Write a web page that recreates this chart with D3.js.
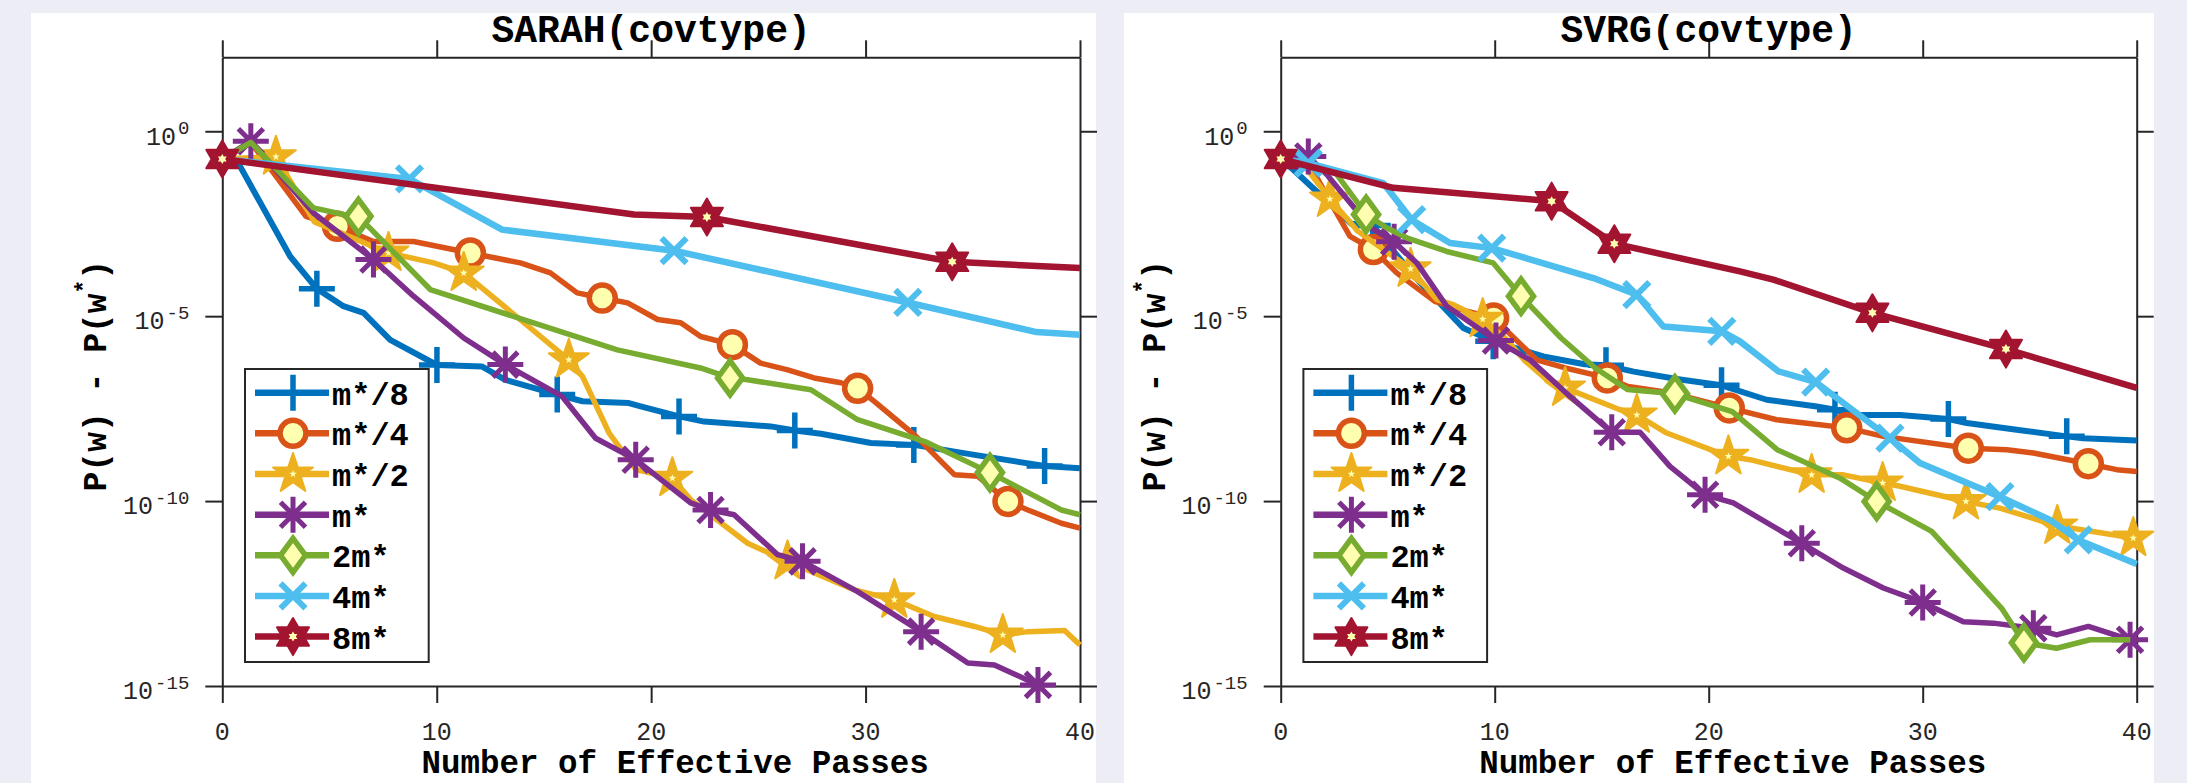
<!DOCTYPE html>
<html><head><meta charset="utf-8">
<script src="https://cdn.jsdelivr.net/npm/d3@7"></script>
<style>body{margin:0;background:#EDEDF5;} svg{display:block;}</style>
</head><body>
<svg id="chart" width="2187" height="783"></svg>
<script>
// ---------- shared categories / ticks ----------
const seriesLabels = ["m*/8","m*/4","m*/2","m*","2m*","4m*","8m*"];
const seriesColors = ["#0072BD","#D95319","#EDB120","#7E2F8E","#77AC30","#4DBEEE","#A2142F"];
const seriesMarkers = ["plus","circle","pentagram","asterisk","diamond","cross","hexagram"];
const panelTitles = ["SARAH(covtype)","SVRG(covtype)"];
const xTicks = [0,10,20,30,40];
const xTickLabels = ["0","10","20","30","40"];
const yTicks = [1e0,1e-5,1e-10,1e-15];
const yTickExp = ["0","-5","-10","-15"];

// ---------- SARAH (values: x = effective passes, y = log10(P(w)-P(w*))) ----------
const sarah_m8_x = [0,0.83,3.16,4.41,5.65,6.59,7.83,10.01,12.1,13.2,15.62,16.8,18.96,19.6,21.3,22.47,25.58,26.7,27.92,30.25,32.25,35.08,38.35,40];
const sarah_m8_y = [-0.75,-0.95,-3.38,-4.26,-4.73,-4.91,-5.64,-6.32,-6.36,-6.72,-7.12,-7.30,-7.35,-7.45,-7.71,-7.85,-7.98,-8.09,-8.18,-8.43,-8.48,-8.75,-9.05,-9.11];
const sarah_m8_mk = [4.41,10.01,15.62,21.3,26.7,32.25,38.35];

const sarah_m4_x = [0,1.33,3.9,5.37,7.05,8.92,11.57,13.9,15.3,16.55,17.72,18.9,20.3,21.38,22.31,23.79,25.1,26.37,27.6,28.85,29.63,30.42,32.28,34.15,35.24,36.64,37.57,39.13,40];
const sarah_m4_y = [-0.75,-0.3,-2.3,-2.57,-2.98,-2.98,-3.29,-3.56,-3.83,-4.37,-4.51,-4.64,-5.09,-5.18,-5.55,-5.77,-6.27,-6.45,-6.67,-6.8,-6.95,-7.31,-8.21,-9.29,-9.33,-10.01,-10.24,-10.6,-10.73];
const sarah_m4_mk = [5.37,11.57,17.72,23.79,29.63,36.64];

const sarah_m2_x = [0,2.5,4.3,7.75,9.86,11.26,16.16,16.8,18.04,19.3,20.99,21.84,24.5,26.36,29.48,31.34,33.2,35.08,36.4,37.57,39.28,40];
const sarah_m2_y = [-0.75,-0.69,-2.45,-3.29,-3.56,-3.83,-6.18,-6.63,-8.16,-9.15,-9.38,-9.96,-11.14,-11.63,-12.4,-12.67,-13.12,-13.39,-13.62,-13.53,-13.5,-13.89];
const sarah_m2_mk = [2.5,7.75,11.26,16.16,20.99,26.36,31.34,36.4];

const sarah_m1_x = [0,1.33,4.25,7.05,8.92,11.26,13.2,15.85,17.41,19.28,21.84,22.77,23.87,25.9,27.06,29.63,32.59,34.77,36.01,38.04];
const sarah_m1_y = [-0.75,-0.27,-2.21,-3.47,-4.46,-5.59,-6.31,-7.17,-8.3,-8.88,-10.05,-10.24,-10.37,-11.45,-11.63,-12.45,-13.53,-14.38,-14.43,-14.97];
const sarah_m1_mk = [1.33,7.05,13.2,19.28,22.77,27.06,32.59,38.04];

const sarah_2m_x = [0,1.33,4.25,5.65,6.35,9.7,18.42,22.3,23.68,24.5,27.45,29.63,32.77,35.8,39.13,40];
const sarah_2m_y = [-0.75,-0.3,-2.07,-2.25,-2.3,-4.28,-5.91,-6.4,-6.67,-6.72,-6.99,-7.8,-8.39,-9.23,-10.24,-10.37];
const sarah_2m_mk = [6.35,23.68,35.8];

const sarah_4m_x = [0,8.73,13.05,21.07,31.97,37.97,40];
const sarah_4m_y = [-0.75,-1.29,-2.66,-3.23,-4.63,-5.43,-5.5];
const sarah_4m_mk = [8.73,21.07,31.97];

const sarah_8m_x = [0,19.2,22.6,34.04,34.8,40];
const sarah_8m_y = [-0.75,-2.25,-2.32,-3.53,-3.55,-3.7];
const sarah_8m_mk = [0,22.6,34.04];

// ---------- SVRG ----------
const svrg_m8_x = [0,0.59,3.3,4.3,6.2,8.53,9.93,12.27,14.2,15.2,16.5,18.5,20.6,22.71,25.05,25.9,26.76,28.94,31.2,32.06,34.39,36.73,37.5,40];
const svrg_m8_y = [-0.75,-1.04,-2.5,-2.55,-3.9,-5.32,-5.68,-6.09,-6.3,-6.33,-6.5,-6.7,-6.87,-7.26,-7.44,-7.53,-7.67,-7.67,-7.78,-7.89,-8.07,-8.25,-8.3,-8.36];
const svrg_m8_mk = [4.3,9.93,15.2,20.6,25.9,31.2,36.73];

const svrg_m4_x = [0,1.1,2.4,3.24,4.33,5.42,7.2,8.6,9.95,11.96,13.3,15.26,16.24,18.2,20.96,23.18,26.45,28.16,32.13,33.93,35.17,37.74,39.07,40];
const svrg_m4_y = [-0.75,-0.62,-2.0,-2.84,-3.2,-3.83,-4.6,-4.85,-5.05,-6.18,-6.4,-6.67,-6.9,-7.07,-7.48,-7.8,-8.02,-8.25,-8.57,-8.61,-8.7,-8.99,-9.15,-9.2];
const svrg_m4_mk = [4.33,9.95,15.26,20.96,26.45,32.13,37.74];

const svrg_m2_x = [0,1.2,2.3,3.6,6.07,7.29,8.07,9.44,10.5,11.4,12.4,13.29,15.85,16.64,18.04,20.92,21.93,24.81,26.29,28.13,28.94,32.02,33.61,36.29,37.5,39.84];
const svrg_m2_y = [-0.75,-1.0,-1.83,-2.7,-3.72,-4.55,-4.69,-5.08,-5.6,-6.2,-6.7,-6.94,-7.53,-7.67,-8.16,-8.79,-8.88,-9.29,-9.29,-9.51,-9.6,-10.01,-10.19,-10.67,-10.78,-11.0];
const svrg_m2_mk = [2.3,6.07,9.44,13.29,16.64,20.92,24.81,28.13,32.02,36.29,39.84];

const svrg_m1_x = [0,1.29,2.2,4.2,5.3,6.36,7.76,10.06,11.65,13.52,15.47,16.79,18.19,19.83,21.15,24.35,26.29,28.16,30.0,31.9,33.3,35.17,36.26,37.74,39.69];
const svrg_m1_y = [-0.75,-0.68,-1.2,-2.6,-2.99,-3.56,-4.73,-5.66,-6.18,-7.17,-8.14,-8.14,-9.06,-9.83,-10.05,-11.14,-11.81,-12.35,-12.74,-13.26,-13.3,-13.44,-13.62,-13.39,-13.75];
const svrg_m1_mk = [1.29,5.3,10.06,15.47,19.83,24.35,30.0,35.17,39.69];

const svrg_2m_x = [0,1.3,2.6,3.99,4.95,5.89,7.76,9.93,11.23,13.1,14.7,16.2,18.42,19.59,21.1,23.2,26.14,27.85,30.42,33.69,34.73,36.26,37.82,39.7];
const svrg_2m_y = [-0.75,-0.85,-1.15,-2.25,-2.61,-2.88,-3.25,-3.56,-4.46,-5.59,-6.4,-6.98,-7.1,-7.31,-7.58,-8.61,-9.38,-10.01,-10.82,-12.9,-13.83,-13.98,-13.75,-13.75];
const svrg_2m_mk = [3.99,11.23,18.42,27.85,34.73];

const svrg_4m_x = [0,1.29,4.79,6.12,7.91,9.86,14.61,16.64,17.88,20.61,21.46,23.25,25.0,28.47,29.87,33.61,35.95,37.27,40];
const svrg_4m_y = [-0.75,-0.86,-1.4,-2.39,-3.02,-3.16,-3.97,-4.42,-5.28,-5.41,-5.68,-6.49,-6.78,-8.3,-8.97,-9.88,-10.51,-11.05,-11.7];
const svrg_4m_mk = [1.29,6.12,9.86,16.64,20.61,25.0,28.47,33.61,37.27];

const svrg_8m_x = [0,5.26,12.66,15.59,21.46,23.02,27.65,33.89,40];
const svrg_8m_y = [-0.75,-1.53,-1.89,-3.04,-3.79,-4.01,-4.91,-5.89,-6.94];
const svrg_8m_mk = [0,12.66,15.59,27.65,33.89];

// ---------- assemble ----------
const sarahSeries = [
  [sarah_m8_x,sarah_m8_y,sarah_m8_mk],[sarah_m4_x,sarah_m4_y,sarah_m4_mk],[sarah_m2_x,sarah_m2_y,sarah_m2_mk],
  [sarah_m1_x,sarah_m1_y,sarah_m1_mk],[sarah_2m_x,sarah_2m_y,sarah_2m_mk],[sarah_4m_x,sarah_4m_y,sarah_4m_mk],
  [sarah_8m_x,sarah_8m_y,sarah_8m_mk]];
const svrgSeries = [
  [svrg_m8_x,svrg_m8_y,svrg_m8_mk],[svrg_m4_x,svrg_m4_y,svrg_m4_mk],[svrg_m2_x,svrg_m2_y,svrg_m2_mk],
  [svrg_m1_x,svrg_m1_y,svrg_m1_mk],[svrg_2m_x,svrg_2m_y,svrg_2m_mk],[svrg_4m_x,svrg_4m_y,svrg_4m_mk],
  [svrg_8m_x,svrg_8m_y,svrg_8m_mk]];

const FONT = "'Liberation Mono','Courier New',monospace";
const AXC = "#262626";
const PALE = "#FFFFB0";
const lineW = [6,5.5,5.5,5.5,5.5,6.5,6.5];

const layouts = [
  {bg:[31,13,1065,770], ax:[222.3,1080], data:sarahSeries, title:panelTitles[0]},
  {bg:[1124,13,1030,770], ax:[1280.7,2136.7], data:svrgSeries, title:panelTitles[1]}
];
const yTop = 57.3, yBot = 686;

const svg = d3.select("#chart");
svg.append("rect").attr("width",2187).attr("height",783).attr("fill","#EDEDF5");

function starPath(n, R, r){
  let p = [];
  for(let k=0;k<2*n;k++){
    const a = -Math.PI/2 + k*Math.PI/n;
    const rad = (k%2===0)?R:r;
    p.push([rad*Math.cos(a), rad*Math.sin(a)]);
  }
  return "M"+p.map(q=>q[0].toFixed(2)+","+q[1].toFixed(2)).join("L")+"Z";
}

function drawMarker(g, type, color, cx, cy){
  const m = g.append("g").attr("transform",`translate(${cx},${cy})`);
  if(type==="plus"){
    m.append("path").attr("d","M-18,0H18M0,-18V18").attr("stroke",color).attr("stroke-width",5.5).attr("fill","none");
  } else if(type==="asterisk"){
    m.append("path").attr("d","M-18,0H18M0,-18V18M-12.5,-12.5L12.5,12.5M-12.5,12.5L12.5,-12.5")
      .attr("stroke",color).attr("stroke-width",5).attr("fill","none");
  } else if(type==="cross"){
    m.append("path").attr("d","M-12.5,-12.5L12.5,12.5M-12.5,12.5L12.5,-12.5").attr("stroke",color).attr("stroke-width",6).attr("fill","none");
  } else if(type==="circle"){
    m.append("circle").attr("r",13).attr("fill",PALE).attr("stroke",color).attr("stroke-width",5.5);
  } else if(type==="diamond"){
    m.append("path").attr("d","M0,-17L12.5,0L0,17L-12.5,0Z").attr("fill",PALE).attr("stroke",color).attr("stroke-width",5.5).attr("stroke-linejoin","miter");
  } else if(type==="pentagram"){
    m.append("path").attr("d",starPath(5,21,8.2)).attr("fill",color).attr("stroke",color).attr("stroke-width",2).attr("stroke-linejoin","round");
    m.append("path").attr("d",starPath(5,4,1.6)).attr("fill",PALE);
  } else if(type==="hexagram"){
    m.append("path").attr("d",starPath(6,18.5,10.7)).attr("fill",color).attr("stroke",color).attr("stroke-width",2).attr("stroke-linejoin","round");
    m.append("path").attr("d",starPath(6,5,2.9)).attr("fill",PALE);
  }
}

layouts.forEach(L=>{
  const [bx,by,bw,bh] = L.bg;
  svg.append("rect").attr("x",bx).attr("y",by).attr("width",bw).attr("height",bh).attr("fill","#FFFFFF");
  const x = d3.scaleLinear().domain([0,40]).range(L.ax);
  const y = d3.scaleLog().domain([1e-15,1e2]).range([yBot,yTop]);
  const g = svg.append("g");

  // axes (ticks outward on all four sides)
  const styleAxis = sel => {
    sel.select(".domain").attr("stroke",AXC).attr("stroke-width",2);
    sel.selectAll(".tick line").attr("stroke",AXC).attr("stroke-width",2);
  };
  g.append("g").attr("transform",`translate(0,${yBot})`)
    .call(d3.axisBottom(x).tickValues(xTicks).tickSize(17).tickSizeOuter(0).tickFormat("")).call(styleAxis);
  g.append("g").attr("transform",`translate(0,${yTop})`)
    .call(d3.axisTop(x).tickValues(xTicks).tickSize(17).tickSizeOuter(0).tickFormat("")).call(styleAxis);
  g.append("g").attr("transform",`translate(${L.ax[0]},0)`)
    .call(d3.axisLeft(y).tickValues(yTicks).tickSize(17).tickSizeOuter(0).tickFormat("")).call(styleAxis);
  g.append("g").attr("transform",`translate(${L.ax[1]},0)`)
    .call(d3.axisRight(y).tickValues(yTicks).tickSize(17).tickSizeOuter(0).tickFormat("")).call(styleAxis);

  // tick labels
  xTicks.forEach((v,i)=>{
    g.append("text").attr("x",x(v)).attr("y",740).attr("text-anchor","middle")
      .attr("font-family",FONT).attr("font-size",25).attr("fill","#262626").text(xTickLabels[i]);
  });
  yTicks.forEach((v,i)=>{
    const t = g.append("text").attr("x",L.ax[0]-33).attr("y",y(v)+13.3).attr("text-anchor","end")
      .attr("font-family",FONT).attr("fill","#262626");
    t.append("tspan").attr("font-size",25).text("10");
    t.append("tspan").attr("font-size",19).attr("dx",2).attr("dy",-10.3).text(yTickExp[i]);
  });

  // title and axis labels
  const cx = (L.ax[0]+L.ax[1])/2;
  g.append("text").attr("x",cx).attr("y",42).attr("text-anchor","middle")
    .attr("font-family",FONT).attr("font-weight","bold").attr("font-size",38).attr("fill","#000").text(L.title);
  g.append("text").attr("x",cx+24).attr("y",773).attr("text-anchor","middle")
    .attr("font-family",FONT).attr("font-weight","bold").attr("font-size",32.5).attr("fill","#000")
    .text("Number of Effective Passes");
  const yl = g.append("text").attr("transform",`translate(${L.ax[0]-116},${(yTop+yBot)/2+4}) rotate(-90)`)
    .attr("text-anchor","middle").attr("font-family",FONT).attr("font-weight","bold").attr("font-size",33).attr("fill","#000");
  yl.append("tspan").text("P(w) - P(w");
  yl.append("tspan").attr("font-size",23).attr("dy",-14).text("*");
  yl.append("tspan").attr("dy",14).text(")");

  // series
  const line = d3.line().x(d=>x(d.x)).y(d=>y(d.v));
  L.data.forEach((s,si)=>{
    const [xs,ys,mk] = s;
    const pts = xs.map((xx,i)=>({x:xx, v:Math.pow(10,ys[i])}));
    const sg = g.append("g");
    sg.append("path").datum(pts).attr("d",line).attr("fill","none")
      .attr("stroke",seriesColors[si]).attr("stroke-width",lineW[si])
      .attr("stroke-linejoin","round").attr("stroke-linecap","butt");
    pts.filter(p=>mk.includes(p.x)).forEach(p=>{
      drawMarker(sg, seriesMarkers[si], seriesColors[si], x(p.x), y(p.v));
    });
  });

  // legend
  const lx = L.ax[0]+22.7, ly = 369;
  const lg = g.append("g");
  lg.append("rect").attr("x",lx).attr("y",ly).attr("width",183.7).attr("height",293)
    .attr("fill","#FFFFFF").attr("stroke",AXC).attr("stroke-width",2);
  seriesLabels.forEach((lab,i)=>{
    const cy = 392.7 + i*40.65;
    lg.append("line").attr("x1",lx+10).attr("x2",lx+84).attr("y1",cy).attr("y2",cy)
      .attr("stroke",seriesColors[i]).attr("stroke-width",6.5);
    drawMarker(lg, seriesMarkers[i], seriesColors[i], lx+48, cy);
    lg.append("text").attr("x",lx+87).attr("y",cy+12).attr("font-family",FONT).attr("font-weight","bold")
      .attr("font-size",32).attr("fill","#000").text(lab);
  });
});
</script>
</body></html>
